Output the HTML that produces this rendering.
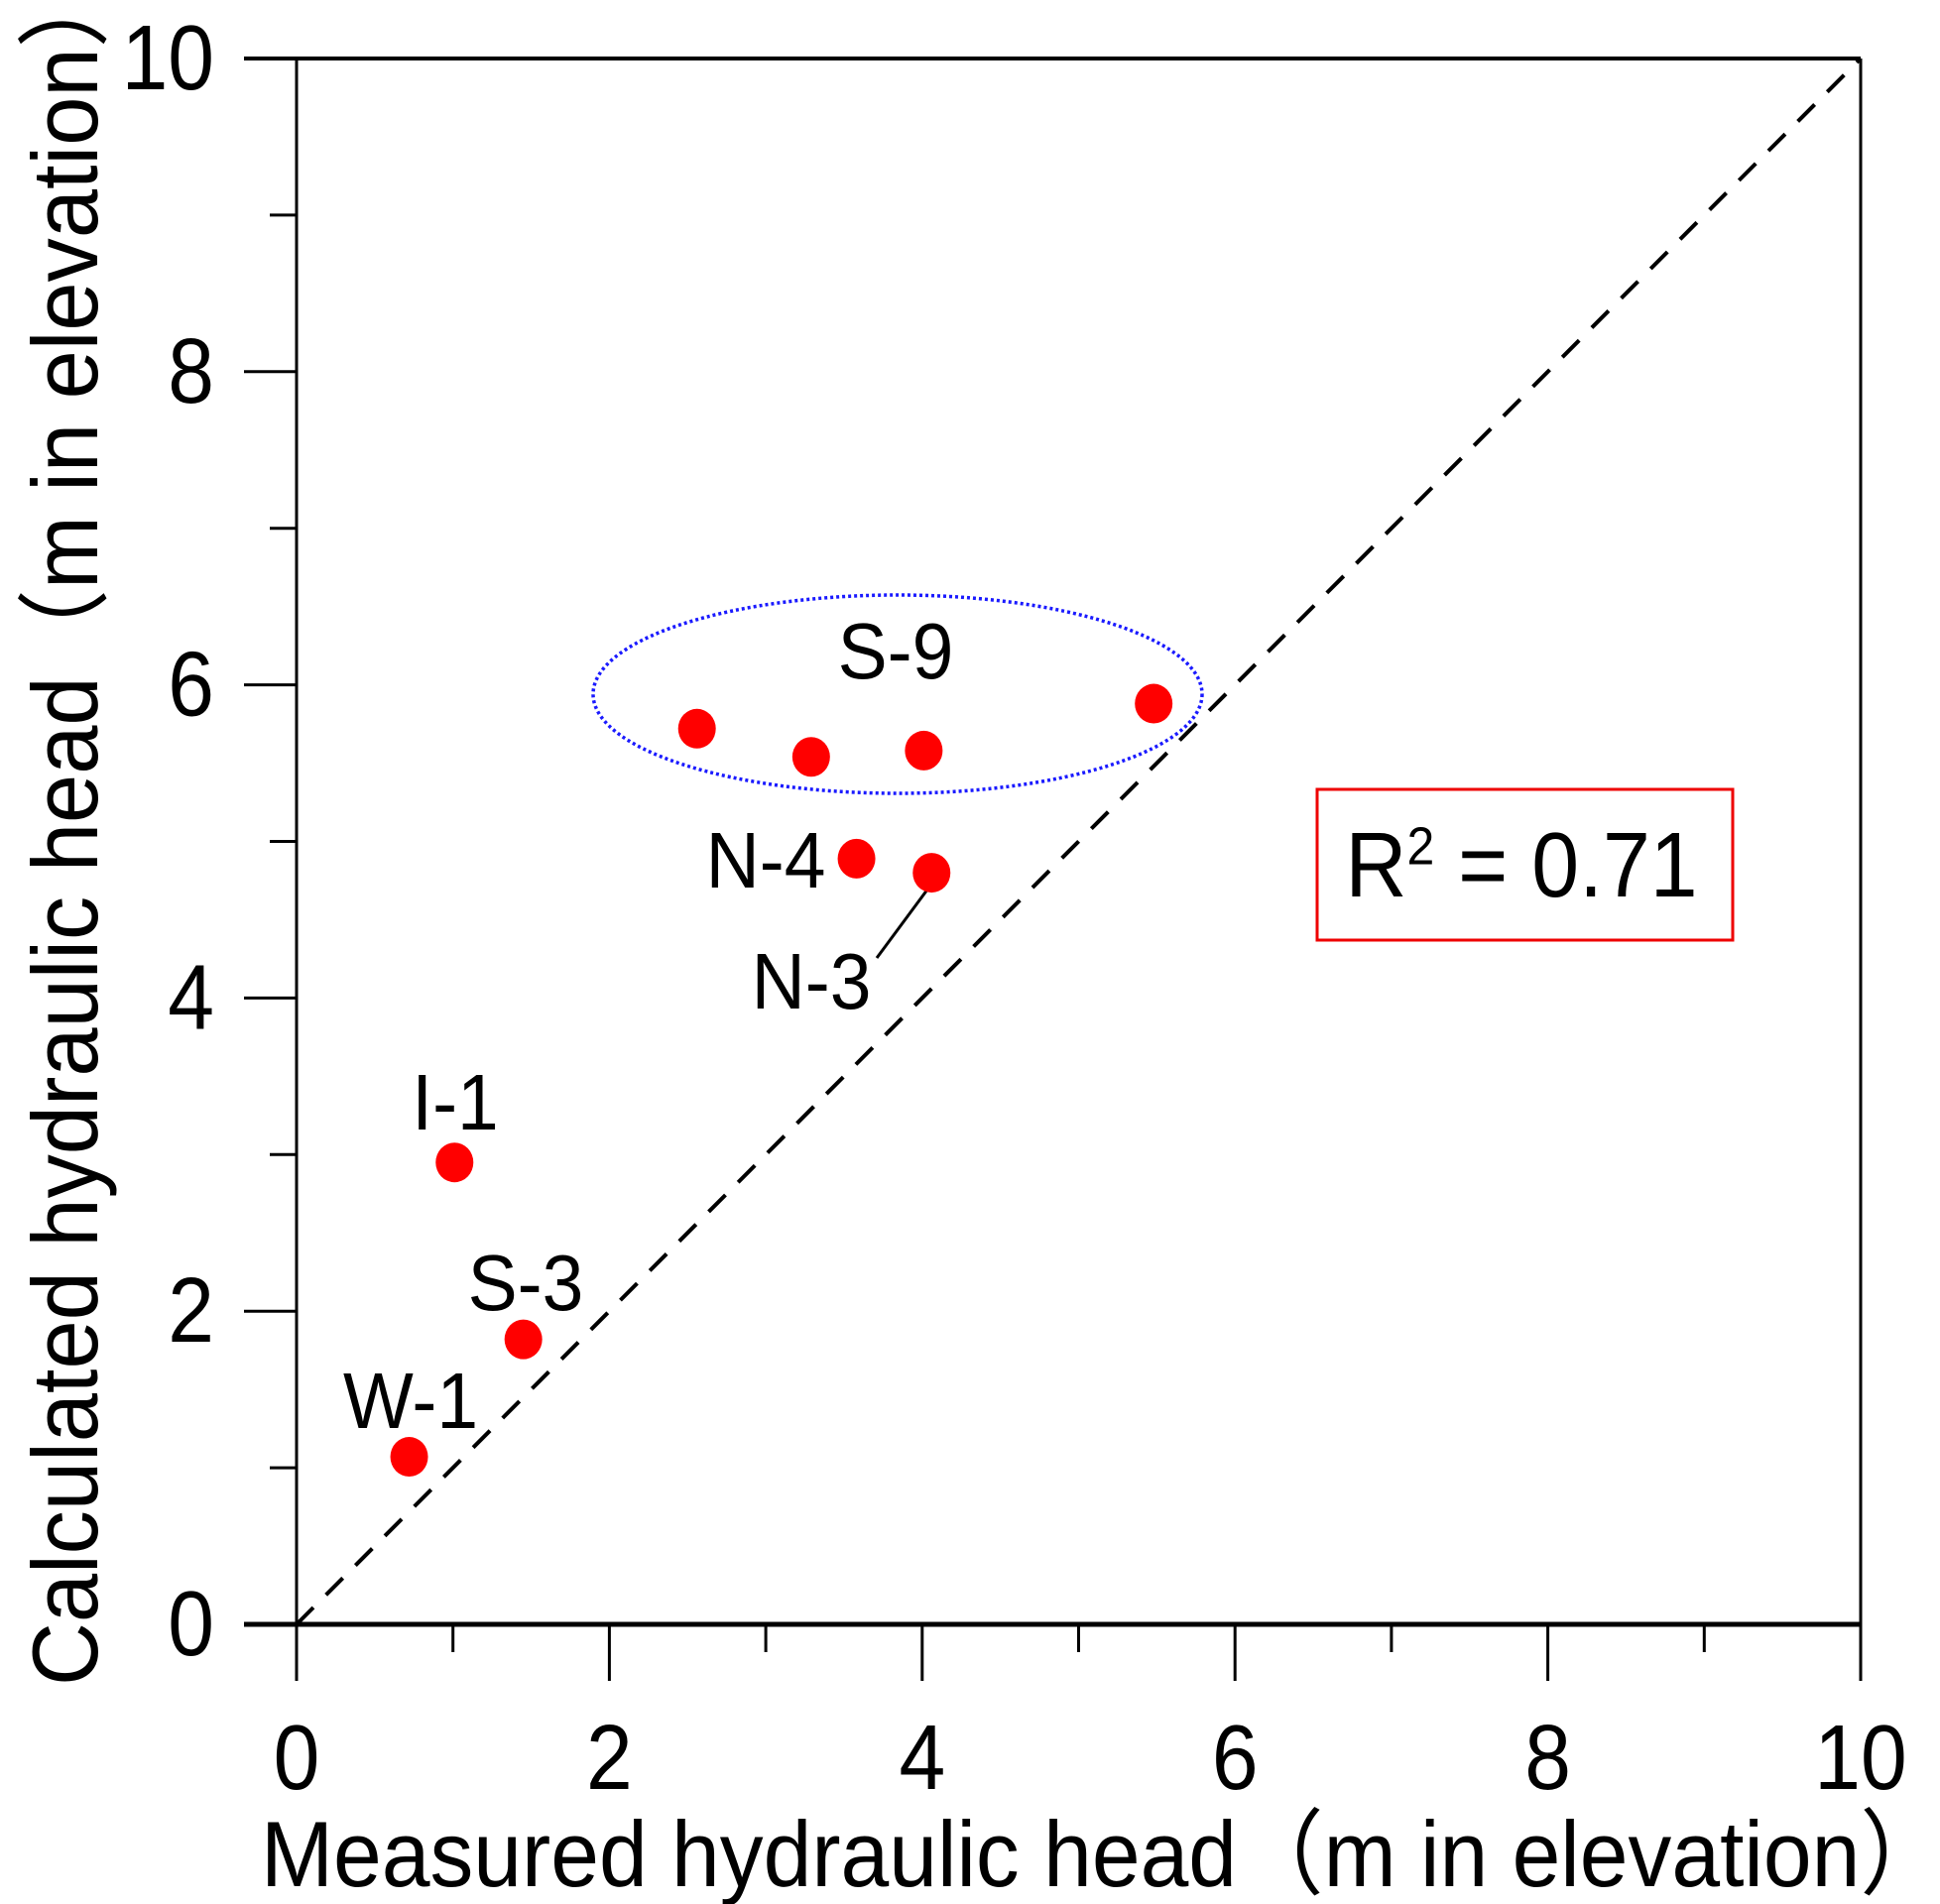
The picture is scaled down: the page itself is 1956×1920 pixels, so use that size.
<!DOCTYPE html>
<html><head><meta charset="utf-8"><style>
html,body{margin:0;padding:0;background:#fff;}
svg{display:block;}
text{font-family:"Liberation Sans","Noto Sans CJK JP",sans-serif;fill:#000;}
</style></head><body>
<svg id="chart" width="1956" height="1920" viewBox="0 0 1956 1920" xmlns="http://www.w3.org/2000/svg">
<g id="axes"></g>
<g id="marks"></g>
</svg>
<script>
const wells = ["W-1","S-3","I-1","N-4","N-3","S-9a","S-9b","S-9c","S-9d"];
const measured = [0.72,1.45,1.01,3.58,4.06,2.56,3.29,4.01,5.48];
const calculated = [1.07,1.82,2.95,4.89,4.80,5.72,5.54,5.58,5.88];
const majorTicks = [0,2,4,6,8,10];
const minorTicks = [1,3,5,7,9];
const tickLabels = ["0","2","4","6","8","10"];

const X0=299,X1=1876,Y0=1638,Y1=59;
const sx=v=>X0+(v/10)*(X1-X0);
const sy=v=>Y0-(v/10)*(Y0-Y1);
const NS="http://www.w3.org/2000/svg";
function mk(tag,attrs,parent,txt){const e=document.createElementNS(NS,tag);for(const k in attrs)e.setAttribute(k,attrs[k]);if(txt!==undefined)e.textContent=txt;parent.appendChild(e);return e;}
const axes=document.getElementById('axes'),marks=document.getElementById('marks');

let e;
e=mk('line',{x1:X0-53,y1:Y1,x2:X1,y2:Y1,stroke:'#000','stroke-width':4},axes);

e=mk('line',{x1:X1,y1:Y1,x2:X1,y2:Y0+57,stroke:'#000','stroke-width':3},axes);

e=mk('line',{x1:X0,y1:Y1,x2:X0,y2:Y0+57,stroke:'#000','stroke-width':3},axes);

e=mk('line',{x1:X0-53,y1:Y0,x2:X1,y2:Y0,stroke:'#000','stroke-width':5},axes);


majorTicks.forEach((v,i)=>{
  let t=mk('line',{x1:X0-53,y1:sy(v),x2:X0,y2:sy(v),stroke:'#000','stroke-width':3},axes);
  
  t=mk('line',{x1:sx(v),y1:Y0,x2:sx(v),y2:Y0+57,stroke:'#000','stroke-width':3},axes);
  
  let l=mk('text',{x:0,y:0,'font-size':84,'text-anchor':'end',transform:`translate(216,${sy(v)+31}) scale(1,1.1)`},axes,tickLabels[i]);
  
  l=mk('text',{x:0,y:0,'font-size':84,'text-anchor':'middle',transform:`translate(${sx(v)},1804) scale(1,1.1)`},axes,tickLabels[i]);
  
});
minorTicks.forEach(v=>{
  let t=mk('line',{x1:X0-27,y1:sy(v),x2:X0,y2:sy(v),stroke:'#000','stroke-width':3},axes);
  
  t=mk('line',{x1:sx(v),y1:Y0,x2:sx(v),y2:Y0+28,stroke:'#000','stroke-width':3},axes);
  
});

e=mk('text',{x:263,y:1902,'font-size':94,textLength:1700,lengthAdjust:'spacingAndGlyphs'},axes,'Measured hydraulic head（m in elevation）');

e=mk('text',{x:0,y:0,'font-size':94,textLength:1740,lengthAdjust:'spacingAndGlyphs',transform:'translate(98,1700) rotate(-90)'},axes,'Calculated hydraulic head（m in elevation）');


e=mk('line',{x1:sx(0),y1:sy(0),x2:sx(10),y2:sy(10),stroke:'#000','stroke-width':4,'stroke-dasharray':'24 18'},marks);


e=mk('ellipse',{cx:905,cy:700,rx:307,ry:100,fill:'none',stroke:'#1a1aff','stroke-width':3.5,'stroke-dasharray':'3 3'},marks);


e=mk('line',{x1:884,y1:966,x2:938,y2:893,stroke:'#000','stroke-width':3},marks);


wells.forEach((w,i)=>{
  const c=mk('ellipse',{cx:sx(measured[i]),cy:sy(calculated[i]),rx:19,ry:20,fill:'#ff0000'},marks);
  
  
});

const labs=[["S-9",903,684],["N-4",772,895],["N-3",818,1017],["I-1",459,1139],["S-3",530,1321],["W-1",414,1440]];
labs.forEach(l=>{
  const t=mk('text',{x:0,y:0,'font-size':75,'text-anchor':'middle',transform:`translate(${l[1]},${l[2]}) scale(1,1.07)`},marks,l[0]);
  
  
});

e=mk('rect',{x:1328,y:796,width:419,height:152,fill:'none',stroke:'#ee0000','stroke-width':3},marks);

e=mk('text',{x:0,y:0,'font-size':86,'text-anchor':'middle',transform:'translate(1534,904) scale(1,1.08)'},marks);

e.innerHTML='R<tspan font-size="50" dy="-30">2</tspan><tspan dy="30"> = 0.71</tspan>';
</script>
</body></html>
